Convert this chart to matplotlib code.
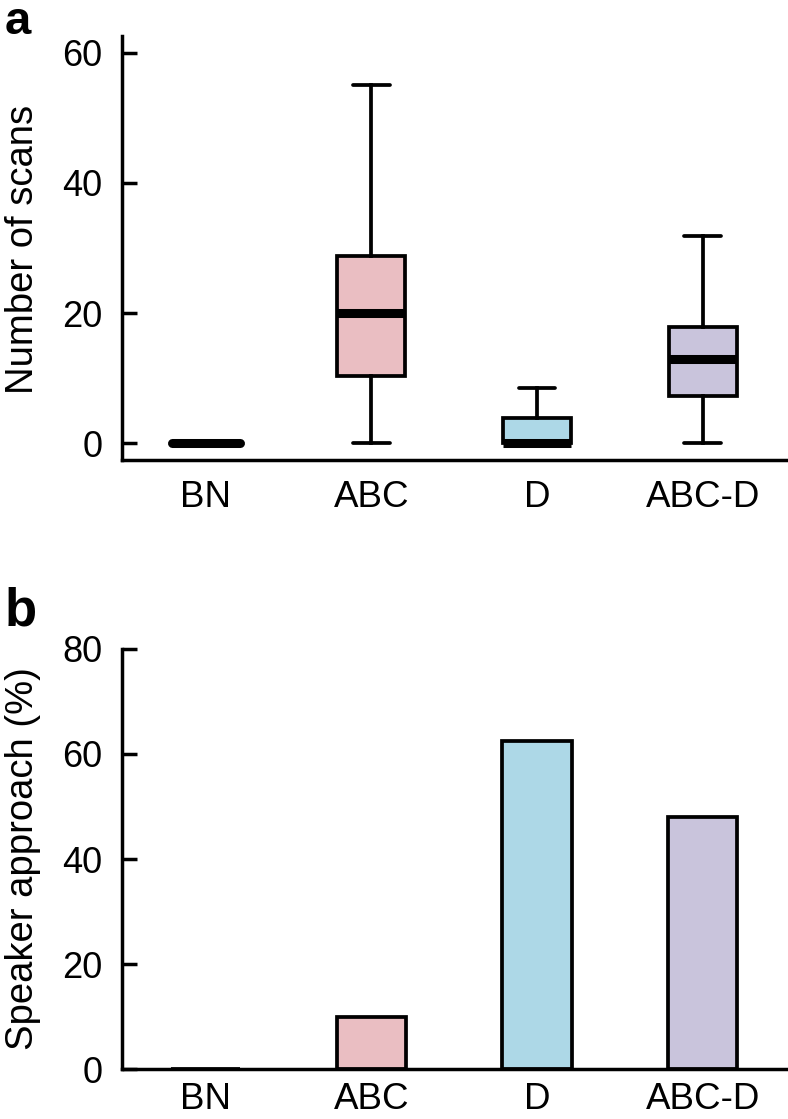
import matplotlib
matplotlib.use("Agg")
import matplotlib.pyplot as plt

plt.rcParams["font.family"] = ["Liberation Sans", "DejaVu Sans"]

# Grupos y colores
grupos = ["BN", "ABC", "D", "ABC-D"]
colores = ["#FFFFFF", "#EABEC2", "#ADD8E7", "#C9C4DC"]

# Panel a: resumen de los boxplots (número de escaneos)
bigote_inf = [0, 0, 0, 0]
q1 = [0, 10.3, 0, 7.2]
mediana = [0, 20, 0, 12.9]
q3 = [0, 28.8, 3.9, 17.9]
bigote_sup = [0, 55, 8.5, 31.9]

# Panel b: porcentaje de acercamiento al altavoz
acercamiento = [0, 10, 62.4, 48]

fig = plt.figure(figsize=(7.88, 11.19), dpi=100)
W, H = 788, 1119

ax1 = fig.add_axes([121.7 / W, 1 - 460 / H, (786 - 121.7) / W, (460 - 36) / H])
ax2 = fig.add_axes([121.7 / W, 1 - 1069.3 / H, (786 - 121.7) / W, (1069.3 - 648.8) / H])

pos = [1, 2, 3, 4]

stats = []
for i, g in enumerate(grupos):
    stats.append({
        "label": g,
        "whislo": bigote_inf[i],
        "q1": q1[i],
        "med": mediana[i],
        "q3": q3[i],
        "whishi": bigote_sup[i],
        "fliers": [],
    })

lw = 2.7
bp = ax1.bxp(stats, positions=pos, widths=0.41, capwidths=0.22,
             patch_artist=True, showfliers=False,
             boxprops=dict(linewidth=lw, edgecolor="black"),
             whiskerprops=dict(linewidth=lw, color="black"),
             capprops=dict(linewidth=lw, color="black", solid_capstyle="round"),
             medianprops=dict(linewidth=6.5, color="black", solid_capstyle="butt"))
for caja, c in zip(bp["boxes"], colores):
    caja.set_facecolor(c)
# la mediana de BN tiene extremos redondeados
bp["medians"][0].set_solid_capstyle("round")

ax1.set_xlim(0.493, 4.503)
ax1.set_ylim(-2.55, 62.55)
ax1.set_yticks([0, 20, 40, 60])

ax2.bar(pos, acercamiento, width=0.42, color=colores, edgecolor="black", linewidth=lw)
ax2.set_xlim(0.493, 4.503)
ax2.set_ylim(0, 80)
ax2.set_yticks([0, 20, 40, 60, 80])

for ax, xpad in [(ax1, 14.5), (ax2, 9.5)]:
    for lado in ["top", "right"]:
        ax.spines[lado].set_visible(False)
    for lado in ["left", "bottom"]:
        ax.spines[lado].set_linewidth(2.5)
    ax.set_xticks(pos)
    ax.set_xticklabels(grupos)
    ax.tick_params(axis="y", direction="in", length=11, width=2.5, labelsize=26, pad=14)
    ax.tick_params(axis="x", length=0, labelsize=26.5, pad=xpad)

fig.text(5 / W, 1 - 249 / H, "Number of scans", rotation=90, ha="left", va="center", fontsize=27.5)
fig.text(5 / W, 1 - 859 / H, "Speaker approach (%)", rotation=90, ha="left", va="center", fontsize=27.5)

fig.text(5 / W, 1 - 34.5 / H, "a", fontsize=34, fontweight="bold", ha="left", va="baseline")
fig.text(5 / W, 1 - 625 / H, "b", fontsize=38, fontweight="bold", ha="left", va="baseline")

fig.savefig("out.png", dpi=100)
